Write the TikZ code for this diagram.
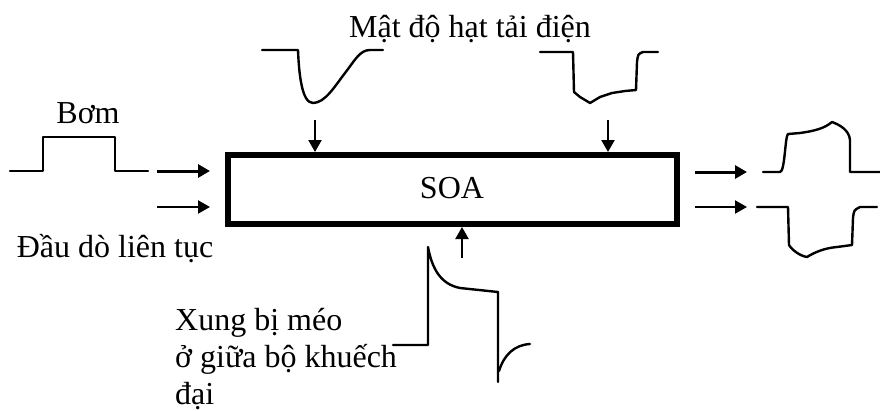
\documentclass[tikz,border=0pt]{standalone}
\usepackage{fontspec}
\setmainfont{Liberation Serif}
\usetikzlibrary{arrows.meta}
\begin{document}
\begin{tikzpicture}[x=1pt,y=-1pt,
  lbl/.style={inner sep=0pt,font=\fontsize{32}{38}\selectfont},
  wave/.style={line width=2.4pt,line join=round,line cap=round},
  arr/.style={line width=2.2pt,-{Triangle[length=12pt,width=13pt]}},
  arrbold/.style={arr,line width=3pt},
  soabox/.style={draw,line width=6pt,minimum width=449pt,minimum height=69pt,inner sep=0pt}]
\useasboundingbox (0,0) rectangle (880,410);

% amplifier block
\node[soabox] (soa) at (452.5,189.5) {};
\node[lbl,anchor=base] (soalbl) at (452,198) {SOA};

% labels
\node[lbl,anchor=base] (pump) at (88,123) {Bơm};
\node[lbl,anchor=base] (probe) at (115,257) {Đầu dò liên tục};
\node[lbl,anchor=base] (carrier) at (470,37) {Mật độ hạt tải điện};
\node[lbl,anchor=base west] (dist1) at (175,330) {Xung bị méo};
\node[lbl,anchor=base west] (dist2) at (175,367) {ở giữa bộ khuếch};
\node[lbl,anchor=base west] (dist3) at (175,404) {đại};

% arrow end points
\coordinate (in1) at (157,171);
\coordinate (in2) at (157,207);
\coordinate (out1) at (747,172);
\coordinate (out2) at (747,207);
\coordinate (topA) at (315,120);
\coordinate (topB) at (608,120);
\coordinate (botA) at (462,258);

% input arrows
\draw[arrbold,shorten >=15pt] (in1) -- (in1 -| soa.west);
\draw[arr,shorten >=15pt] (in2) -- (in2 -| soa.west);
% output arrows
\draw[arrbold,shorten <=15pt] (out1 -| soa.east) -- (out1);
\draw[arr,shorten <=15pt] (out2 -| soa.east) -- (out2);
% carrier density arrows
\draw[arr] (topA) -- (topA |- soa.north);
\draw[arr] (topB) -- (topB |- soa.north);
% distorted pulse arrow
\draw[arr] (botA) -- (botA |- soa.south);

% pump pulse
\draw[wave] (10,171) -- (43,171) -- (43,137) -- (115,137) -- (115,171) -- (148,171);

% carrier density, left
\draw[wave] (262,50) -- (298,50) .. controls (299,75) and (302,103) .. (313,103)
  .. controls (325,103) and (335,86) .. (345,73)
  .. controls (355,60) and (360,50) .. (370,50) -- (383,50);

% carrier density, right
\draw[wave] (540,52) -- (573,52) -- (574,92) -- (580,97) -- (590,103) -- (600,97)
  -- (612,93) -- (625,91) -- (636,90) -- (637,62) .. controls (638,54) .. (643,52) -- (658,52);

% output pump
\draw[wave] (763,172) -- (780,172) .. controls (785,172) and (785,136) .. (788,134)
  -- (800,133) .. controls (815,131) and (825,128) .. (832,122)
  .. controls (840,125) and (849,130) .. (850,140) -- (850,172) -- (880,172);

% output probe
\draw[wave] (757,207) -- (788,207) -- (789,245) .. controls (792,250) and (800,256) .. (807,257)
  .. controls (815,252) and (825,248) .. (837,247) -- (852,245) -- (853,218)
  .. controls (854,210) .. (860,207) -- (877,207);

% distorted pulse inside the amplifier
\draw[wave] (393,345) -- (428,345) -- (428,247)
  .. controls (432,268) and (440,284) .. (460,288) -- (498,292) -- (498,382);
\draw[wave] (499,371) .. controls (504,355) and (514,345) .. (530,344);
\end{tikzpicture}
\end{document}
